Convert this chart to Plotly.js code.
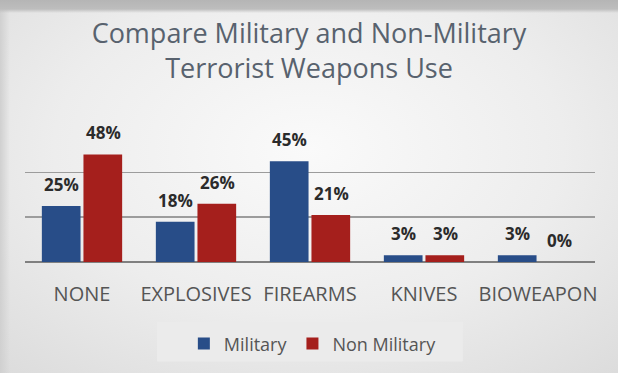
<!DOCTYPE html>
<html>
<head>
<meta charset="utf-8">
<script src="https://cdn.plot.ly/plotly-3.0.1.min.js"></script>
<style>
html,body{margin:0;padding:0;}
body{width:618px;height:373px;overflow:hidden;
 background:
  linear-gradient(to bottom, #b5b5b5 0px, #bdbdbd 9px, rgba(0,0,0,0) 13px),
  linear-gradient(to right, #d0d0d0 0px, rgba(0,0,0,0) 10px),
  radial-gradient(ellipse 75% 80% at 50% 40%, #fafafa 0%, #ededed 55%, #dcdcdc 100%);}
#chart{width:618px;height:373px;}
</style>
</head>
<body>
<div id="chart"></div>
<script>
const categories = ["NONE", "EXPLOSIVES", "FIREARMS", "KNIVES", "BIOWEAPON"];
const military = [25, 18, 45, 3, 3];
const nonMilitary = [48, 26, 21, 3, 0];
const seriesNames = ["Military", "Non Military"];

const labelFont = {family: "Open Sans, Liberation Sans, sans-serif", size: 17, color: "#2b2b2b", weight: 700};

const traces = [
  {type: "bar", name: seriesNames[0], x: categories, y: military,
   marker: {color: "#284d88"}, hoverinfo: "none"},
  {type: "bar", name: seriesNames[1], x: categories, y: nonMilitary,
   marker: {color: "#a51f1c"}, hoverinfo: "none"}
];

function labelAnnotations(values, shift) {
  return values.map((v, i) => ({
    x: categories[i], y: v, xref: "x", yref: "y",
    text: v + "%", showarrow: false, yanchor: "bottom", xanchor: "center",
    xshift: shift, yshift: 8, font: labelFont
  }));
}

const layout = {
  width: 618, height: 373,
  paper_bgcolor: "rgba(0,0,0,0)", plot_bgcolor: "rgba(0,0,0,0)",
  margin: {l: 25, r: 23, t: 150, b: 110, pad: 0},
  title: {text: "Compare Military and Non-Military<br>Terrorist Weapons Use",
    font: {family: "Open Sans, sans-serif", size: 27, color: "#58626e"},
    x: 0.5, xanchor: "center", y: 0.884, yanchor: "middle"},
  barmode: "group", bargap: 0.27, bargroupgap: 0.07,
  xaxis: {type: "category", showgrid: false, showline: false, ticks: "",
    tickfont: {family: "Open Sans, sans-serif", size: 20, color: "#555555"},
    ticklabelstandoff: 18},
  yaxis: {range: [0, 50], dtick: 20, showticklabels: false, showgrid: true,
    gridcolor: "#9c9c9c", gridwidth: 1.5, zeroline: true, zerolinecolor: "#808080", zerolinewidth: 2},
  annotations: labelAnnotations(military, -21).concat(labelAnnotations(nonMilitary, 21)),
  shapes: [{type: "rect", xref: "paper", yref: "paper", x0: 0.2316, x1: 0.768, y0: -0.889, y1: -0.533,
    fillcolor: "#ebebeb", line: {width: 0}, layer: "below"}],
  showlegend: true,
  legend: {orientation: "h", x: 0.505, xanchor: "center", y: -0.715, yanchor: "middle",
    bgcolor: "rgba(0,0,0,0)", borderwidth: 0,
    font: {family: "Open Sans, sans-serif", size: 18, color: "#555555"},
    tracegroupgap: 10}
};

Plotly.newPlot("chart", traces, layout, {staticPlot: true, displayModeBar: false});
</script>
</body>
</html>
